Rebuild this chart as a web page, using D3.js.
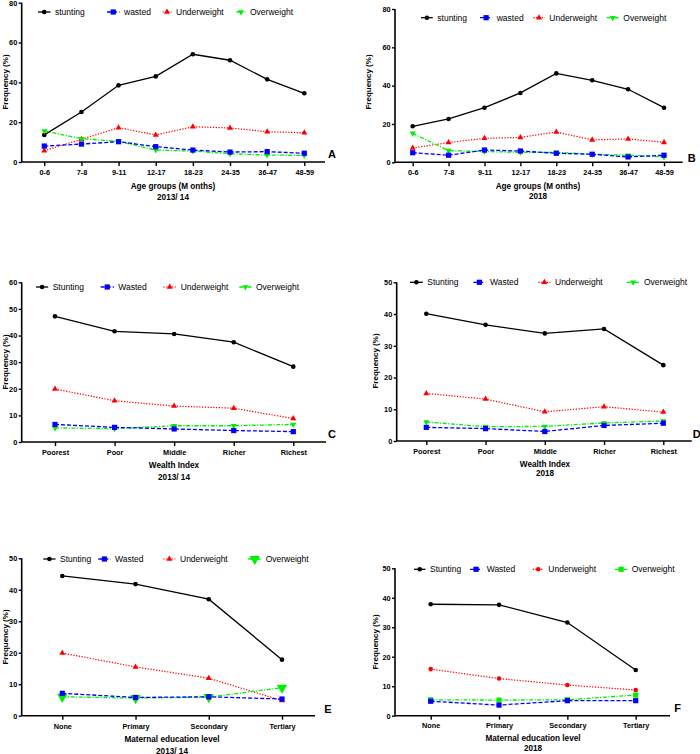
<!DOCTYPE html>
<html><head><meta charset="utf-8">
<script src="https://cdn.jsdelivr.net/npm/d3@7"></script>
<style>body{margin:0;background:#fff}svg{display:block}text{font-family:"Liberation Sans",Arial,sans-serif}</style>
</head><body>
<svg id="c" width="700" height="754"></svg>
<script>
// ---- data ----
const ageGroups = ["0-6","7-8","9-11","12-17","18-23","24-35","36-47","48-59"];
const wealthGroups = ["Poorest","Poor","Middle","Richer","Richest"];
const eduGroups = ["None","Primary","Secondary","Tertiary"];

const A_stunting = [13.6,25.1,38.5,43.0,54.1,51.1,41.5,34.5];
const A_wasted = [8.0,9.0,10.2,7.7,6.0,5.0,5.2,4.4];
const A_under = [5.7,11.4,17.2,13.6,17.7,17.1,15.2,14.7];
const A_over = [15.6,11.7,10.4,6.0,5.5,4.2,3.5,3.3];

const B_stunting = [18.8,22.6,28.5,36.2,46.4,42.8,38.1,28.5];
const B_wasted = [5.0,3.7,6.4,5.9,4.7,4.2,2.8,3.7];
const B_under = [7.5,10.3,12.5,13.0,15.8,11.7,12.2,10.4];
const B_over = [15.1,6.1,5.6,5.2,5.2,4.2,3.7,2.8];

const C_stunting = [47.2,41.6,40.6,37.5,28.3];
const C_wasted = [6.6,5.5,4.9,4.3,3.9];
const C_under = [19.9,15.5,13.5,12.7,8.8];
const C_over = [5.3,5.0,6.1,6.1,6.6];

const D_stunting = [40.1,36.6,33.9,35.3,23.9];
const D_wasted = [4.3,3.9,3.0,4.9,5.6];
const D_under = [15.0,13.2,9.2,10.8,9.1];
const D_over = [6.0,4.5,4.6,5.7,6.3];

const E_stunting = [44.4,41.8,37.0,17.8];
const E_wasted = [7.1,5.8,6.0,5.3];
const E_under = [19.9,15.5,11.9,4.8];
const E_over = [6.0,5.6,5.9,8.9];

const F_stunting = [37.8,37.6,31.6,15.5];
const F_wasted = [4.9,3.6,5.1,5.1];
const F_under = [15.8,12.6,10.4,8.7];
const F_over = [5.4,5.3,5.4,7.0];

const yTicksA = [0,20,40,60,80];
const yTicksC = [0,10,20,30,40,50,60];
const yTicks50 = [0,10,20,30,40,50];

// ---- layout / style ----
const svg = d3.select("#c");
const styles = {
  stunting:{color:"#000",dash:null,w:1.3},
  wasted:{color:"#0000ff",dash:"4,2",w:1.3},
  under:{color:"#ff0000",dash:"1.3,1.5",w:1.2},
  over:{color:"#00ee00",dash:"4,1.5,1.2,1.5",w:1.3}
};
const panels = [
 {letter:"A",cats:ageGroups,yMax:80,ticks:yTicksA,ax:21.7,axEnd:325,x0:44.3,x1:304.3,yTop:2.7,yBot:162,
  series:{stunting:A_stunting,wasted:A_wasted,under:A_under,over:A_over},
  names:["stunting","wasted","Underweight","Overweight"],legY:12,leg:[[38,55],[107,124],[162.5,176],[236.5,250]],
  tickY:172.5,title:"Age groups (M onths)",titleY:186,sub:"2013/ 14",subY:197,titleX:173,
  ylabX:5,ylabY:82,letX:332,letY:154,marks:{under:"tri",over:"tridown"}},
 {letter:"B",cats:ageGroups,yMax:80,ticks:yTicksA,ax:395,axEnd:682.7,x0:412.7,x1:664,yTop:9,yBot:162.3,
  series:{stunting:B_stunting,wasted:B_wasted,under:B_under,over:B_over},
  names:["stunting","wasted","Underweight","Overweight"],legY:17.7,leg:[[421,437.3],[480,496.7],[533.3,549.3],[606.7,623.3]],
  tickY:172.5,title:"Age groups (M onths)",titleY:186,sub:"2018",subY:196.5,titleX:538,
  ylabX:368,ylabY:82,letX:691.7,letY:158.3,marks:{under:"tri",over:"tridown"}},
 {letter:"C",cats:wealthGroups,yMax:60,ticks:yTicksC,ax:21.7,axEnd:326,x0:55,x1:293.3,yTop:282.3,yBot:442,
  series:{stunting:C_stunting,wasted:C_wasted,under:C_under,over:C_over},
  names:["Stunting","Wasted","Underweight","Overweight"],legY:287,leg:[[36,52.7],[100.7,118.3],[163.3,180.7],[239.3,256]],
  tickY:452.5,title:"Wealth Index",titleY:465.5,sub:"2013/ 14",subY:477,titleX:174,
  ylabX:5,ylabY:362,letX:332,letY:434.3,marks:{under:"tri",over:"tridown"}},
 {letter:"D",cats:wealthGroups,yMax:50,ticks:yTicks50,ax:396.7,axEnd:691.7,x0:426.3,x1:663.3,yTop:282.3,yBot:441,
  series:{stunting:D_stunting,wasted:D_wasted,under:D_under,over:D_over},
  names:["Stunting","Wasted","Underweight","Overweight"],legY:282.3,leg:[[410,427.3],[473.3,490],[538.3,555],[626.7,644]],
  tickY:451.5,title:"Wealth Index",titleY:464,sub:"2018",subY:473.5,titleX:545,
  ylabX:375,ylabY:361,letX:696.7,letY:434,marks:{under:"tri",over:"tridown"}},
 {letter:"E",cats:eduGroups,yMax:50,ticks:yTicks50,ax:21.7,axEnd:315,x0:62.3,x1:282,yTop:558.3,yBot:715.7,
  series:{stunting:E_stunting,wasted:E_wasted,under:E_under,over:E_over},
  names:["Stunting","Wasted","Underweight","Overweight"],legY:559,leg:[[43.3,60],[98.3,115],[163.3,180],[248.3,265.7]],
  tickY:726,title:"Maternal education level",titleY:739.5,sub:"2013/ 14",subY:751,titleX:172,
  ylabX:5,ylabY:637,letX:328,letY:709,marks:{under:"tri",over:"bigtridown"}},
 {letter:"F",cats:eduGroups,yMax:50,ticks:yTicks50,ax:395,axEnd:670,x0:430.7,x1:635.7,yTop:568.3,yBot:715.7,
  series:{stunting:F_stunting,wasted:F_wasted,under:F_under,over:F_over},
  names:["Stunting","Wasted","Underweight","Overweight"],legY:569.3,leg:[[414,430],[470,486.7],[532.7,548.3],[615,631.7]],
  tickY:725,title:"Maternal education level",titleY:738,sub:"2018",subY:748,titleX:533,
  ylabX:375,ylabY:642,letX:677.7,letY:708.3,marks:{under:"circle",over:"square"}}
];

function drawMarker(g,type,color,x,y){
  if(type==="circle"){g.append("circle").attr("cx",x).attr("cy",y).attr("r",2.3).attr("fill",color);}
  else if(type==="square"){g.append("rect").attr("x",x-2.6).attr("y",y-2.6).attr("width",5.2).attr("height",5.2).attr("fill",color);}
  else if(type==="tri"){g.append("path").attr("d",d3.symbol(d3.symbolTriangle,16)()).attr("transform",`translate(${x},${y})`).attr("fill",color);}
  else if(type==="tridown"){g.append("path").attr("d",d3.symbol(d3.symbolTriangle,16)()).attr("transform",`translate(${x},${y}) rotate(180)`).attr("fill",color);}
  else if(type==="bigtridown"){g.append("path").attr("d",d3.symbol(d3.symbolTriangle,48)()).attr("transform",`translate(${x},${y}) rotate(180)`).attr("fill",color);}
}

panels.forEach(p=>{
  const g = svg.append("g");
  const x = d3.scalePoint().domain(p.cats).range([p.x0,p.x1]);
  const y = d3.scaleLinear().domain([0,p.yMax]).range([p.yBot,p.yTop]);
  // axes
  const yAx = g.append("g").attr("transform",`translate(${p.ax},0)`)
    .call(d3.axisLeft(y).tickValues(p.ticks).tickSize(3).tickPadding(1.5).tickFormat(d3.format("d")));
  yAx.select(".domain").attr("d",`M0,${p.yBot}V${p.yTop}`);
  const xAx = g.append("g").attr("transform",`translate(0,${p.yBot})`)
    .call(d3.axisBottom(x).tickSize(4).tickPadding(4));
  xAx.select(".domain").attr("d",`M${p.ax},0H${p.axEnd}`);
  [yAx,xAx].forEach(a=>{
    a.selectAll(".domain").attr("stroke","#000").attr("stroke-width",1.6);
    a.selectAll(".tick line").attr("stroke","#000").attr("stroke-width",1.4);
    a.selectAll("text").attr("font-size",7.3).attr("font-weight","bold").attr("fill","#000");
  });
  xAx.selectAll(".tick text").attr("y",null).attr("dy",null)
    .attr("transform",`translate(0,${p.tickY-p.yBot})`).attr("dominant-baseline","central");
  // series
  const keys=["stunting","wasted","under","over"];
  const markType = {stunting:"circle",wasted:"square",under:p.marks.under,over:p.marks.over};
  const order=["stunting","under","over","wasted"];
  order.forEach(k=>{
    const vals=p.series[k], st=styles[k];
    const line=d3.line().x((d,i)=>x(p.cats[i])).y(d=>y(d));
    g.append("path").datum(vals).attr("d",line).attr("fill","none")
      .attr("stroke",st.color).attr("stroke-width",st.w).attr("stroke-dasharray",st.dash);
    vals.forEach((v,i)=>drawMarker(g,markType[k],st.color,x(p.cats[i]),y(v)));
  });
  // legend
  keys.forEach((k,i)=>{
    const st=styles[k], [lx,tx]=p.leg[i];
    const x1=tx-4.5;
    g.append("line").attr("x1",lx).attr("x2",x1).attr("y1",p.legY).attr("y2",p.legY)
      .attr("stroke",st.color).attr("stroke-width",st.w).attr("stroke-dasharray",st.dash);
    drawMarker(g,markType[k],st.color,(lx+x1)/2,p.legY);
    g.append("text").attr("x",tx).attr("y",p.legY).attr("dominant-baseline","central")
      .attr("font-size",8.5).attr("fill","#000").text(p.names[i]);
  });
  // titles
  g.append("text").attr("x",p.titleX).attr("y",p.titleY).attr("text-anchor","middle").attr("dominant-baseline","central")
    .attr("font-size",8.2).attr("font-weight","bold").text(p.title);
  g.append("text").attr("x",p.titleX).attr("y",p.subY).attr("text-anchor","middle").attr("dominant-baseline","central")
    .attr("font-size",8.2).attr("font-weight","bold").text(p.sub);
  g.append("text").attr("transform",`translate(${p.ylabX},${p.ylabY}) rotate(-90)`).attr("text-anchor","middle")
    .attr("dominant-baseline","central").attr("font-size",8).attr("font-weight","bold").text("Frequency (%)");
  g.append("text").attr("x",p.letX).attr("y",p.letY).attr("text-anchor","middle").attr("dominant-baseline","central")
    .attr("font-size",11).attr("font-weight","bold").text(p.letter);
});
</script>
</body></html>
